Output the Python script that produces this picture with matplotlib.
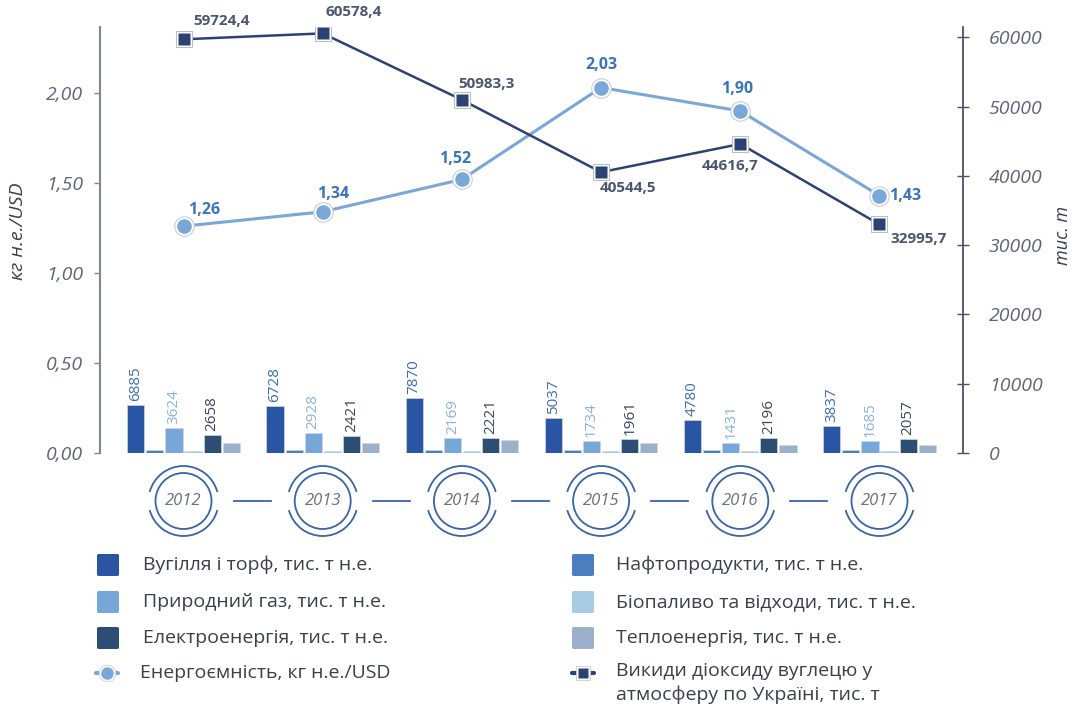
import matplotlib
matplotlib.use('Agg')
import matplotlib.pyplot as plt
from matplotlib.patches import Arc, Circle, FancyBboxPatch
from matplotlib.lines import Line2D
from matplotlib.ticker import FuncFormatter

plt.rcParams['font.family'] = ['Open Sans', 'DejaVu Sans']

# Data
years = ['2012', '2013', '2014', '2015', '2016', '2017']
coal = [6885, 6728, 7870, 5037, 4780, 3837]
oil = [400, 400, 400, 400, 400, 400]
gas = [3624, 2928, 2169, 1734, 1431, 1685]
bio = [350, 350, 350, 350, 350, 350]
electricity = [2658, 2421, 2221, 1961, 2196, 2057]
heat = [1480, 1480, 1830, 1400, 1130, 1130]
intensity = [1.26, 1.34, 1.52, 2.03, 1.90, 1.43]
co2 = [59724.4, 60578.4, 50983.3, 40544.5, 44616.7, 32995.7]

bar_series = [
    ('Вугілля і торф, тис. т н.е.', coal, '#2955a3', '#3d6db4'),
    ('Нафтопродукти, тис. т н.е.', oil, '#4a7ebf', None),
    ('Природний газ, тис. т н.е.', gas, '#77a7d8', '#8db2dd'),
    ('Біопаливо та відходи, тис. т н.е.', bio, '#a8cce6', None),
    ('Електроенергія, тис. т н.е.', electricity, '#2c4d74', '#3b4658'),
    ('Теплоенергія, тис. т н.е.', heat, '#9cafcb', None),
]
intensity_label = 'Енергоємність, кг н.е./USD'
co2_label = 'Викиди діоксиду вуглецю у\nатмосферу по Україні, тис. т'

# label offsets in pixels (x, y)
co2_offsets = [(10, 18, 'left'), (3, 21, 'left'), (-4, 16, 'left'),
               (-1, -16, 'left'), (-10, -22, 'center'), (11, -15, 'left')]
int_offsets = [(21, 16, 'center'), (10, 18, 'center'), (-7, 20, 'center'),
               (0, 23, 'center'), (-3, 22, 'center'), (10, 0, 'left')]

# Plot settings
W, H = 1073, 708
co2_color = '#2c4272'
int_color = '#7aa7d8'
tick_color = '#5f6577'
text_color = '#3a3f4a'


def px(x, y, w=0, h=0):
    # pixel box (top-left origin) -> figure fraction
    return [x / W, 1 - (y + h) / H, w / W, h / H]


fig = plt.figure(figsize=(W / 100, H / 100), dpi=100)
ax = fig.add_axes(px(100, 27, 863, 426))
ax2 = ax.twinx()

xs = list(range(len(years)))
slot = 0.137
bw = 0.123
for i, (label, vals, color, lcolor) in enumerate(bar_series):
    offs = [x + (i - 2.5) * slot for x in xs]
    ax2.bar(offs, vals, width=bw, color=color, edgecolor='#d0d6e0', linewidth=0.5, zorder=2)
    if lcolor:
        for xo, v in zip(offs, vals):
            ax2.annotate(str(v), (xo, v), xytext=(0, 4), textcoords='offset pixels',
                         rotation=90, ha='center', va='bottom', fontsize=11, color=lcolor)

# energy intensity line (left axis)
ax.plot(xs, intensity, color=int_color, lw=2.2, zorder=3)
ax.plot(xs, intensity, 'o', ms=14, mfc='white', mec='#c8cdd6', mew=0.8, zorder=4)
ax.plot(xs, intensity, 'o', ms=10.5, mfc=int_color, mec='none', zorder=5)
for x, v, (dx, dy, ha) in zip(xs, intensity, int_offsets):
    ax.annotate(f'{v:.2f}'.replace('.', ','), (x, v), xytext=(dx, dy), textcoords='offset pixels',
                ha=ha, va='center', fontsize=11.5, fontweight='bold', color='#3a74bb', zorder=6)

# CO2 line (right axis)
ax2.plot(xs, co2, color=co2_color, lw=1.8, zorder=3)
ax2.plot(xs, co2, 's', ms=11, mfc='white', mec='#b8bec8', mew=0.8, zorder=4)
ax2.plot(xs, co2, 's', ms=8, mfc=co2_color, mec='none', zorder=5)
for x, v, (dx, dy, ha) in zip(xs, co2, co2_offsets):
    ax2.annotate(f'{v:.1f}'.replace('.', ','), (x, v), xytext=(dx, dy), textcoords='offset pixels',
                 ha=ha, va='center', fontsize=11, fontweight='bold', color='#4d5670', zorder=6)

ax.set_xlim(-0.6, 5.6)
ax.set_ylim(0, 426 / 180)
ax2.set_ylim(0, 61500)
ax.set_yticks([0, 0.5, 1.0, 1.5, 2.0])
ax2.set_yticks(range(0, 60001, 10000))
ax.yaxis.set_major_formatter(FuncFormatter(lambda v, p: f'{v:.2f}'.replace('.', ',')))
ax.set_xticks([])

for a in (ax, ax2):
    for s in ('top', 'bottom'):
        a.spines[s].set_visible(False)
ax.spines['right'].set_visible(False)
ax2.spines['left'].set_visible(False)
ax.spines['left'].set_color('#80858e')
ax.spines['left'].set_linewidth(1.5)
ax2.spines['right'].set_color('#4a5068')
ax2.spines['right'].set_linewidth(1.3)

ax.tick_params(axis='y', direction='out', length=4, width=1, color='#80858e', pad=8,
               labelsize=14, labelcolor=tick_color)
ax2.tick_params(axis='y', direction='inout', length=9, width=1, color='#4a5068', pad=14,
                labelsize=14, labelcolor=tick_color)
for lab in ax.get_yticklabels() + ax2.get_yticklabels():
    lab.set_fontstyle('italic')

fig.text(18 / W, 1 - 231 / H, 'кг н.е./USD', rotation=90, ha='center', va='center',
         fontsize=14, style='italic', color=text_color)
fig.text(1063 / W, 1 - 235 / H, 'тис. т', rotation=90, ha='center', va='center',
         fontsize=13, style='italic', color=text_color)

# timeline of years
axt = fig.add_axes(px(100, 459, 863, 84))
upp = 6.2 / 863
axt.set_xlim(-0.6, 5.6)
axt.set_ylim(-42 * upp, 42 * upp)
axt.axis('off')
ring = '#3a63a8'
for i, yr in enumerate(years):
    axt.add_patch(Circle((i, 0), 28 * upp, fill=False, ec=ring, lw=1.3))
    axt.add_patch(Arc((i, 0), 70 * upp, 70 * upp, theta1=15, theta2=165, ec=ring, lw=1.3))
    axt.add_patch(Arc((i, 0), 70 * upp, 70 * upp, theta1=195, theta2=345, ec=ring, lw=1.3))
    axt.text(i, 0, yr, ha='center', va='center', fontsize=12, style='italic', color='#6b7080')
    if i < len(years) - 1:
        axt.plot([i + 50 * upp, i + 1 - 52 * upp], [0, 0], color=ring, lw=1.3)

# legend
def legend_box(x, y, color):
    fig.patches.append(FancyBboxPatch((x / W, 1 - (y + 11) / H), 22 / W, 22 / H,
                                      boxstyle='round,pad=0,rounding_size=0.002',
                                      transform=fig.transFigure, fc=color, ec='none'))


def legend_line(x, y, color, marker, ms):
    yy = 1 - y / H
    for x0 in (x + 1, x + 19):
        fig.lines.append(Line2D([x0 / W, (x0 + 4) / W], [yy, yy], transform=fig.transFigure,
                                color=color, lw=3, solid_capstyle='round'))
    fig.lines.append(Line2D([(x + 12) / W], [yy], transform=fig.transFigure, marker=marker,
                            ms=ms + 3, mfc='white', mec='#c8cdd6', mew=0.6, lw=0))
    fig.lines.append(Line2D([(x + 12) / W], [yy], transform=fig.transFigure, marker=marker,
                            ms=ms, mfc=color, mec='none', lw=0))


cols = [(97, 143), (572, 616)]
rows = [565, 602, 638]
for i, (label, vals, color, lcolor) in enumerate(bar_series):
    (bx, tx) = cols[i % 2]
    y = rows[i // 2]
    legend_box(bx, y, color)
    fig.text(tx / W, 1 - y / H, label, ha='left', va='center', fontsize=14, color=text_color)

legend_line(95, 673, int_color, 'o', 9)
fig.text(140 / W, 1 - 673 / H, intensity_label, ha='left', va='center', fontsize=14, color=text_color)
legend_line(571, 673, co2_color, 's', 7)
fig.text(616 / W, 1 - 662 / H, co2_label, ha='left', va='top', fontsize=14, color=text_color,
         linespacing=1.35)

fig.savefig('out.png', dpi=100)
